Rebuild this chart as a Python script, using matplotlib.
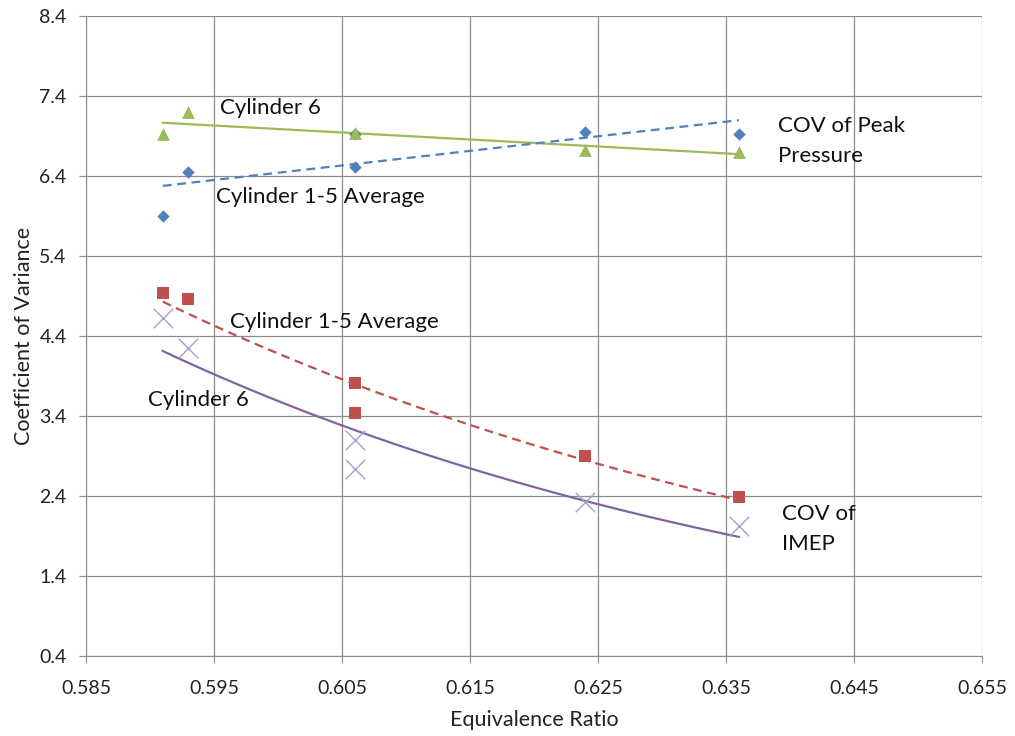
import numpy as np
import matplotlib
matplotlib.use("Agg")
import matplotlib.pyplot as plt

# Data
phi_peak6 = [0.591, 0.593, 0.606, 0.624, 0.636]
peak_cyl6 = [6.93, 7.20, 6.94, 6.73, 6.70]
phi_peak15 = [0.591, 0.593, 0.606, 0.606, 0.624, 0.636]
peak_cyl15 = [5.90, 6.45, 6.51, 6.93, 6.95, 6.925]

phi_imep = [0.591, 0.593, 0.606, 0.606, 0.624, 0.636]
imep_cyl15 = [4.94, 4.86, 3.81, 3.44, 2.90, 2.39]
imep_cyl6 = [4.625, 4.25, 3.10, 2.74, 2.325, 2.025]

x_ticks = [0.585, 0.595, 0.605, 0.615, 0.625, 0.635, 0.645, 0.655]
y_ticks = [0.4, 1.4, 2.4, 3.4, 4.4, 5.4, 6.4, 7.4, 8.4]

GREEN = "#9BBB59"
BLUE = "#4F81BD"
RED = "#C0504D"
PURPLE = "#8064A2"
XCOL = "#A99DCC"
GRID = "#8C8C8C"

plt.rcParams['font.family'] = ['Lato', 'DejaVu Sans']

fig = plt.figure(figsize=(10.15, 7.36), dpi=100)
ax = fig.add_axes([86/1015, 1-656/736, (982-86)/1015, (656-16)/736])

# markers
ax.scatter(phi_peak15, peak_cyl15, marker='D', s=40, color=BLUE, zorder=3, linewidths=0)
ax.scatter(phi_peak6, peak_cyl6, marker='^', s=85, color=GREEN, zorder=4, linewidths=0)
ax.scatter(phi_imep, imep_cyl15, marker='s', s=80, color=RED, zorder=3, linewidths=0)
ax.scatter(phi_imep, imep_cyl6, marker='x', s=200, color=XCOL, zorder=3, linewidths=1.0)

# trendlines
def linfit(x, y):
    x = np.asarray(x); y = np.asarray(y)
    p = np.polyfit(x, y, 1)
    xs = np.linspace(x.min(), x.max(), 100)
    return xs, np.polyval(p, xs)

def expfit(x, y):
    x = np.asarray(x); y = np.asarray(y)
    p = np.polyfit(x, np.log(y), 1)
    xs = np.linspace(x.min(), x.max(), 100)
    return xs, np.exp(np.polyval(p, xs))

xs, ys = linfit(phi_peak6, peak_cyl6)
ax.plot(xs, ys, color=GREEN, lw=1.6, zorder=2)
xs, ys = linfit(phi_peak15, peak_cyl15)
ax.plot(xs, ys, color=BLUE, lw=1.6, ls=(0, (4, 2.5)), zorder=2)
xs, ys = expfit(phi_imep, imep_cyl15)
ax.plot(xs, ys, color=RED, lw=1.6, ls=(0, (4, 2.5)), zorder=2)
xs, ys = expfit(phi_imep, imep_cyl6)
ax.plot(xs, ys, color=PURPLE, lw=1.6, zorder=2)

ax.set_xlim(0.585, 0.655)
ax.set_ylim(0.4, 8.4)
ax.set_xticks(x_ticks)
ax.set_xticklabels([f"{v:.3f}" for v in x_ticks])
ax.set_yticks(y_ticks)
ax.set_yticklabels([f"{v:.1f}" for v in y_ticks])
ax.grid(True, color=GRID, lw=0.9)
ax.set_axisbelow(True)
for s in ['top', 'right']:
    ax.spines[s].set_visible(False)
for s in ['left', 'bottom']:
    ax.spines[s].set_color(GRID)
ax.tick_params(axis='both', colors=GRID, length=5, labelsize=14, labelcolor='#222222')
ax.tick_params(axis='x', pad=12)
ax.tick_params(axis='y', pad=9)

ax.set_xlabel("Equivalence Ratio", fontsize=15.5, color='#222222', labelpad=10)
ax.set_ylabel("Coefficient of Variance", fontsize=15.5, color='#222222', labelpad=4)

tk = dict(fontsize=16, color='#111111')
ax.text(0.59547, 7.25, "Cylinder 6", va='center', ha='left', **tk)
ax.text(0.59516, 6.135, "Cylinder 1-5 Average", va='center', ha='left', **tk)
ax.text(0.63906, 6.84, "COV of Peak\nPressure", va='center', ha='left', linespacing=1.65, **tk)
ax.text(0.59625, 4.575, "Cylinder 1-5 Average", va='center', ha='left', **tk)
ax.text(0.58984, 3.6, "Cylinder 6", va='center', ha='left', **tk)
ax.text(0.63938, 1.99, "COV of\nIMEP", va='center', ha='left', linespacing=1.65, **tk)

fig.savefig("out.png", dpi=100)
